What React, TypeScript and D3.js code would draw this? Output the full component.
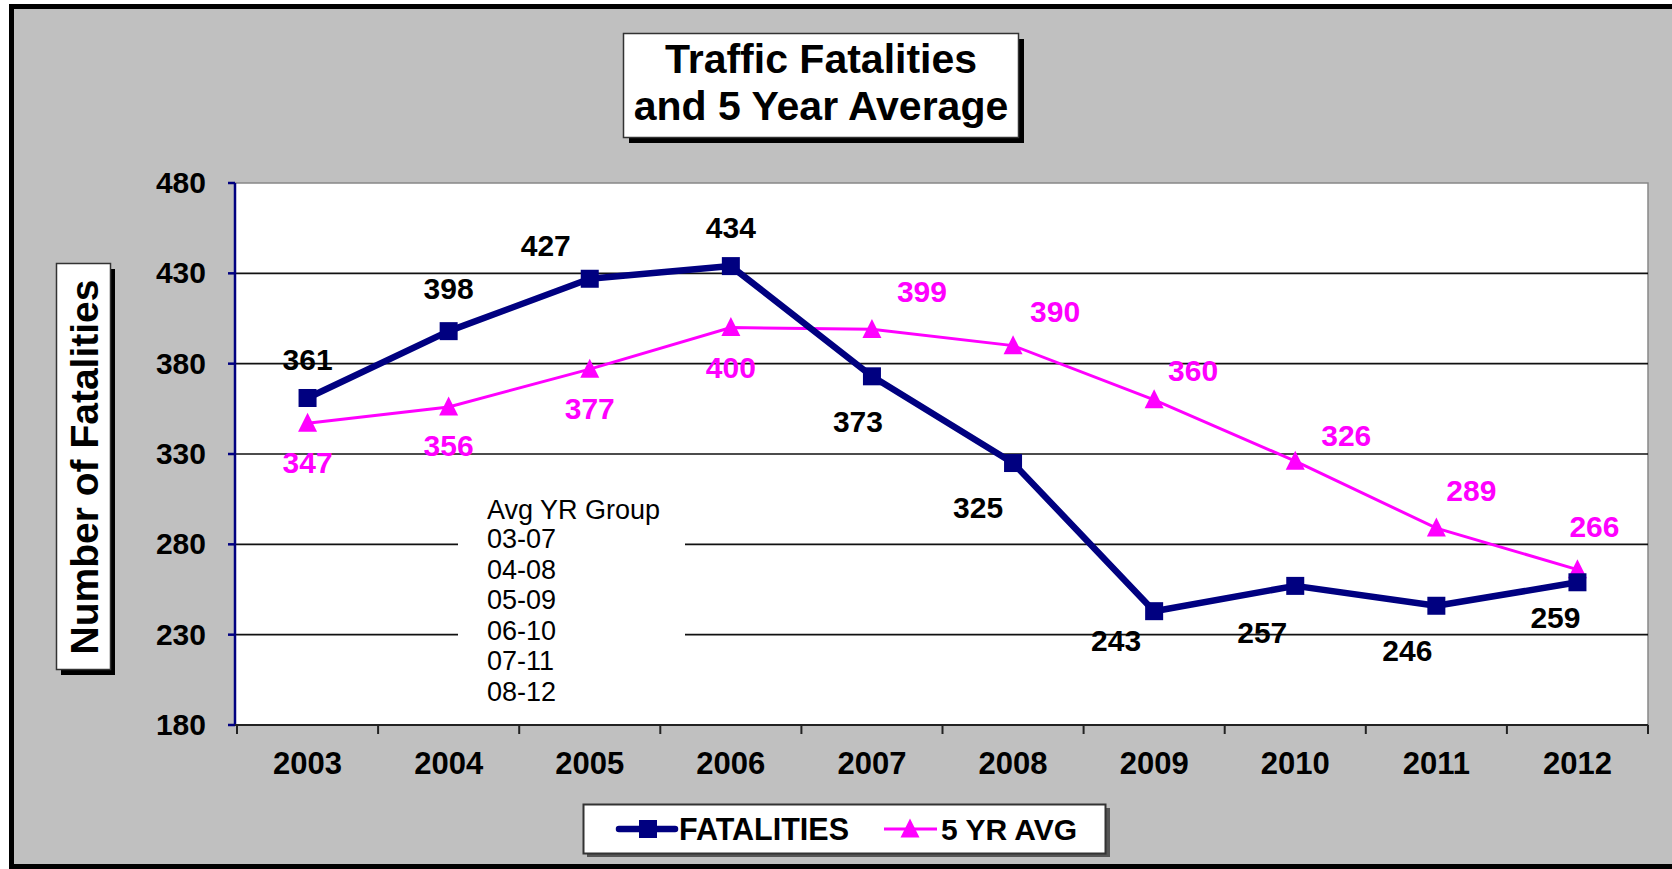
import React from 'react';
import { scaleBand, scaleLinear, line } from 'd3';

const years = ['2003', '2004', '2005', '2006', '2007', '2008', '2009', '2010', '2011', '2012'];
const fatalities = [361, 398, 427, 434, 373, 325, 243, 257, 246, 259];
const fiveYrAvg = [347, 356, 377, 400, 399, 390, 360, 326, 289, 266];
const yTicks = [180, 230, 280, 330, 380, 430, 480];
const avgGroups = ['03-07', '04-08', '05-09', '06-10', '07-11', '08-12'];

// hand placed label offsets (dx, dy to baseline), like the original chart
const fatalLabelPos = [[0, -28], [0, -32], [-44, -23], [0, -28], [-14, 56], [-35, 55], [-38, 40], [-33, 57], [-29, 55], [-22, 46]];
const avgLabelPos = [[0, 50], [0, 49], [0, 50], [0, 50], [50, -27], [42, -24], [39, -19], [51, -15], [35, -27], [17, -33]];

const FONT = '"Liberation Sans", Arial, sans-serif';
const NAVY = '#000080';
const PINK = '#ff00ff';

const plot = { left: 235, right: 1648, top: 183, bottom: 725 };

const App = () => {
    const xScale = scaleBand().domain(years).range([plot.left + 2, plot.right]);
    const yScale = scaleLinear().domain([180, 480]).range([plot.bottom, plot.top]);
    const cx = (yr: string) => (xScale(yr) as number) + xScale.bandwidth() / 2;

    const pathOf = (vals: number[]) =>
        line<number>()
            .x((d, i) => cx(years[i]))
            .y((d) => yScale(d))(vals) as string;

    const tri = (x: number, y: number, s: number) =>
        `M ${x} ${y - s * 0.55} L ${x + s / 2} ${y + s * 0.45} L ${x - s / 2} ${y + s * 0.45} Z`;

    const boundaries = years.map((yr) => xScale(yr) as number).concat([plot.right]);

    return (
        <div style={{ position: 'absolute', left: 0, top: 0 }}>
            <svg width={1672} height={869} style={{ display: 'block' }} fontFamily={FONT}>
                <rect x={0} y={0} width={1672} height={869} fill="#ffffff" />
                <rect x={11.5} y={6.5} width={1700} height={860} fill="#c0c0c0" stroke="#000" strokeWidth={5} />

                {/* title */}
                <rect x={629} y={39} width={395} height={104} fill="#000" />
                <rect x={623.5} y={33.5} width={395} height={104} fill="#fff" stroke="#333" strokeWidth={1.5} />
                <text x={821} y={73} textAnchor="middle" fontSize={41} fontWeight="bold">Traffic Fatalities</text>
                <text x={821} y={120} textAnchor="middle" fontSize={41} fontWeight="bold">and 5 Year Average</text>

                {/* y axis title */}
                <rect x={61} y={269} width={54} height={406} fill="#000" />
                <rect x={56.5} y={263.5} width={54} height={406} fill="#fff" stroke="#333" strokeWidth={1.5} />
                <text transform="translate(98,467) rotate(-90)" textAnchor="middle" fontSize={39} fontWeight="bold">Number of Fatalities</text>

                {/* plot area */}
                <rect x={plot.left} y={plot.top} width={plot.right - plot.left} height={plot.bottom - plot.top} fill="#fff" stroke="#888" strokeWidth={1.5} />
                {yTicks.slice(1, -1).map((t) => (
                    <line key={t} x1={plot.left} x2={plot.right} y1={yScale(t)} y2={yScale(t)} stroke="#111" strokeWidth={1.6} />
                ))}

                {/* avg year group note */}
                <rect x={458} y={492} width={227} height={220} fill="#fff" />
                <text x={487} y={519} fontSize={27}>Avg YR Group</text>
                {avgGroups.map((g, i) => (
                    <text key={g} x={487} y={548 + i * 30.6} fontSize={27}>{g}</text>
                ))}

                {/* axes */}
                <line x1={plot.left} x2={plot.left} y1={plot.top} y2={plot.bottom} stroke={NAVY} strokeWidth={2.5} />
                {yTicks.map((t) => (
                    <g key={t}>
                        <line x1={plot.left - 7} x2={plot.left} y1={yScale(t)} y2={yScale(t)} stroke={NAVY} strokeWidth={2.5} />
                        <text x={206} y={yScale(t) + 10} textAnchor="end" fontSize={30} fontWeight="bold">{t}</text>
                    </g>
                ))}
                <line x1={plot.left} x2={plot.right} y1={plot.bottom} y2={plot.bottom} stroke="#222" strokeWidth={2} />
                {boundaries.map((b, i) => (
                    <line key={i} x1={b} x2={b} y1={plot.bottom} y2={plot.bottom + 9} stroke="#222" strokeWidth={2} />
                ))}
                {years.map((yr) => (
                    <text key={yr} x={cx(yr)} y={774} textAnchor="middle" fontSize={31} fontWeight="bold">{yr}</text>
                ))}

                {/* series */}
                <path d={pathOf(fiveYrAvg)} fill="none" stroke={PINK} strokeWidth={3} />
                {fiveYrAvg.map((v, i) => (
                    <path key={i} d={tri(cx(years[i]), yScale(v), 19)} fill={PINK} />
                ))}
                <path d={pathOf(fatalities)} fill="none" stroke={NAVY} strokeWidth={6.5} strokeLinejoin="round" />
                {fatalities.map((v, i) => (
                    <rect key={i} x={cx(years[i]) - 9} y={yScale(v) - 9} width={18} height={18} fill={NAVY} />
                ))}

                {/* data labels */}
                {fatalities.map((v, i) => (
                    <text key={i} x={cx(years[i]) + fatalLabelPos[i][0]} y={yScale(v) + fatalLabelPos[i][1]}
                        textAnchor="middle" fontSize={30} fontWeight="bold" fill="#000">{v}</text>
                ))}
                {fiveYrAvg.map((v, i) => (
                    <text key={i} x={cx(years[i]) + avgLabelPos[i][0]} y={yScale(v) + avgLabelPos[i][1]}
                        textAnchor="middle" fontSize={30} fontWeight="bold" fill={PINK}>{v}</text>
                ))}

                {/* legend */}
                <rect x={587} y={808} width={523} height={49} fill="#555" />
                <rect x={583.5} y={804.5} width={522} height={49} fill="#fff" stroke="#333" strokeWidth={2} />
                <line x1={619} x2={675} y1={829} y2={829} stroke={NAVY} strokeWidth={6.5} strokeLinecap="round" />
                <rect x={639} y={820} width={18} height={18} fill={NAVY} />
                <text x={679} y={840} fontSize={30.5} fontWeight="bold">FATALITIES</text>
                <line x1={884} x2={937} y1={829} y2={829} stroke={PINK} strokeWidth={3} />
                <path d={tri(910, 829, 19)} fill={PINK} />
                <text x={941} y={840} fontSize={30} fontWeight="bold">5 YR AVG</text>
            </svg>
        </div>
    );
};

export default App;
